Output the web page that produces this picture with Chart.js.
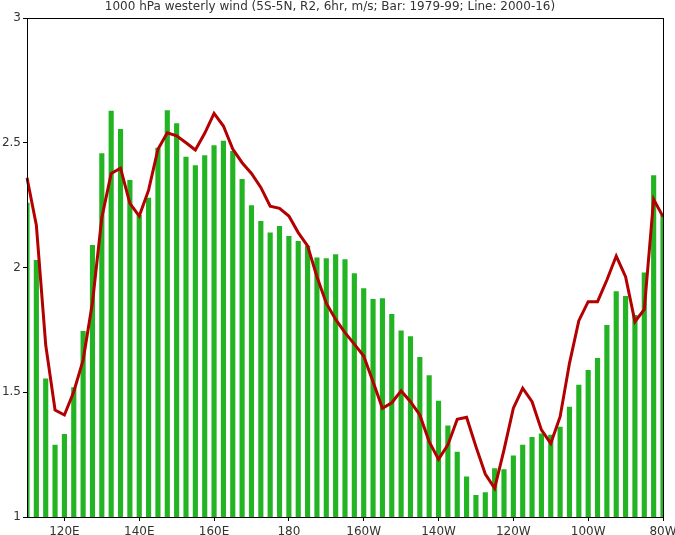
<!DOCTYPE html>
<html>
<head>
<meta charset="utf-8">
<script src="https://cdn.jsdelivr.net/npm/chart.js@4"></script>
<style>
  html, body { margin: 0; padding: 0; background: #fff; }
  #wrap { width: 675px; height: 535px; position: relative; }
</style>
</head>
<body>
<div id="wrap"><canvas id="chart-wind"></canvas></div>
<script>
// longitudes (deg E), every 2.5 deg from 110E to 80W
var lons = [110, 112.5, 115, 117.5, 120, 122.5, 125, 127.5, 130, 132.5, 135, 137.5,
    140, 142.5, 145, 147.5, 150, 152.5, 155, 157.5, 160, 162.5, 165, 167.5,
    170, 172.5, 175, 177.5, 180, 182.5, 185, 187.5, 190, 192.5, 195, 197.5,
    200, 202.5, 205, 207.5, 210, 212.5, 215, 217.5, 220, 222.5, 225, 227.5,
    230, 232.5, 235, 237.5, 240, 242.5, 245, 247.5, 250, 252.5, 255, 257.5,
    260, 262.5, 265, 267.5, 270, 272.5, 275, 277.5, 280];

// Bar: 1979-99
var wind7999 = [2.26, 2.03, 1.555, 1.29, 1.333, 1.52, 1.745, 2.09, 2.458, 2.628, 2.555, 2.351,
    2.21, 2.28, 2.48, 2.63, 2.578, 2.444, 2.41, 2.45, 2.49, 2.508, 2.467, 2.355,
    2.25, 2.186, 2.14, 2.166, 2.126, 2.106, 2.087, 2.04, 2.037, 2.053, 2.033, 1.977,
    1.917, 1.874, 1.877, 1.814, 1.747, 1.724, 1.641, 1.568, 1.466, 1.367, 1.262, 1.162,
    1.088, 1.099, 1.195, 1.191, 1.246, 1.29, 1.321, 1.335, 1.33, 1.362, 1.442, 1.53,
    1.589, 1.637, 1.77, 1.905, 1.886, 1.81, 1.98, 2.37, 2.21];

// Line: 2000-16
var wind0016 = [2.36, 2.17, 1.69, 1.429, 1.409, 1.502, 1.629, 1.86, 2.2, 2.377, 2.398, 2.257,
    2.206, 2.31, 2.474, 2.54, 2.528, 2.5, 2.471, 2.538, 2.618, 2.567, 2.475, 2.42,
    2.377, 2.321, 2.246, 2.237, 2.206, 2.14, 2.087, 1.963, 1.857, 1.792, 1.739, 1.693,
    1.645, 1.542, 1.436, 1.458, 1.506, 1.462, 1.409, 1.302, 1.231, 1.289, 1.392, 1.4,
    1.282, 1.172, 1.115, 1.269, 1.436, 1.516, 1.462, 1.349, 1.295, 1.402, 1.616, 1.787,
    1.863, 1.863, 1.95, 2.046, 1.963, 1.783, 1.832, 2.273, 2.204];

var xTickLons = [120, 140, 160, 180, 200, 220, 240, 260, 280];
var yTicks = [1, 1.5, 2, 2.5, 3];
var title = "1000 hPa westerly wind (5S-5N, R2, 6hr, m/s; Bar: 1979-99; Line: 2000-16)";

function lonLabel(lon) {
    if (xTickLons.indexOf(lon) < 0) return '';
    if (lon < 180) return lon + 'E';
    if (lon == 180) return '180';
    return (360 - lon) + 'W';
}

var frame = {
    id: 'frame',
    afterDraw: function(chart) {
        var c = chart.ctx, a = chart.chartArea;
        c.save();
        c.strokeStyle = '#000';
        c.lineWidth = 1;
        c.strokeRect(a.left + 0.5, a.top + 0.5, a.right - a.left, a.bottom - a.top);
        c.fillStyle = '#333';
        c.font = '12px "DejaVu Sans"';
        c.textAlign = 'center';
        c.textBaseline = 'middle';
        c.fillText(title, 330, 7);
        c.restore();
    }
};

var ctx1 = document.getElementById("chart-wind").getContext("2d");

new Chart(ctx1, {
    type: "bar",
    data: {
        labels: lons,
        datasets: [{
            type: "line",
            label: "2000-16",
            data: wind0016,
            borderColor: "#b30000",
            borderWidth: 3,
            pointRadius: 0,
            tension: 0,
            fill: false,
            order: 0
        }, {
            label: "1979-99",
            data: wind7999,
            backgroundColor: "#22b422",
            categoryPercentage: 1,
            barPercentage: 0.55,
            order: 1
        }]
    },
    options: {
        responsive: true,
        maintainAspectRatio: false,
        animation: false,
        layout: { padding: { top: 18, right: 0, left: 0, bottom: 0 } },
        plugins: {
            legend: { display: false },
            tooltip: { enabled: false }
        },
        scales: {
            x: {
                type: 'category',
                offset: false,
                grid: {
                    offset: false,
                    drawOnChartArea: false,
                    tickLength: 4,
                    color: function(c) {
                        return lonLabel(lons[c.index]) ? '#000' : 'rgba(0,0,0,0)';
                    }
                },
                border: { color: '#000', width: 1 },
                ticks: {
                    autoSkip: false,
                    maxRotation: 0,
                    padding: 4,
                    color: '#333',
                    font: { family: 'DejaVu Sans', size: 12 },
                    callback: function(v, i) { return lonLabel(lons[i]); }
                },
                afterFit: function(s) {
                    s.height = 18;
                    s.paddingLeft = 0;
                    s.paddingRight = 12;
                }
            },
            y: {
                min: 1,
                max: 3,
                grid: { drawOnChartArea: false, tickLength: 4, color: '#000' },
                border: { color: '#000', width: 1 },
                afterBuildTicks: function(s) {
                    s.ticks = yTicks.map(function(v) { return { value: v }; });
                },
                ticks: {
                    padding: 2,
                    color: '#333',
                    font: { family: 'DejaVu Sans', size: 12 },
                    callback: function(v) { return String(v); }
                },
                afterFit: function(s) { s.width = 27; }
            }
        }
    },
    plugins: [frame]
});
</script>
</body>
</html>
